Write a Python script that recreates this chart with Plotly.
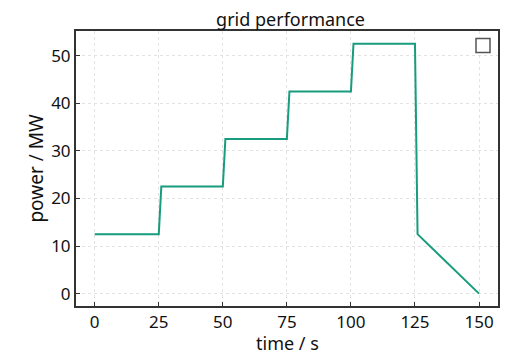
import plotly.graph_objects as go

time_s = [0, 25, 26, 50, 51, 75, 76, 100, 101, 125, 126, 150]
power_mw = [12.5, 12.5, 22.5, 22.5, 32.5, 32.5, 42.5, 42.5, 52.5, 52.5, 12.5, 0]
x_ticks = [0, 25, 50, 75, 100, 125, 150]
y_ticks = [0, 10, 20, 30, 40, 50]

# window pixel layout (page body has an 8px margin)
O = 8
L, R, T, B = 76, 498, 31, 306
W, H = 516, 354
FW, FH = W - O, H - O

def px(x):
    return (x - L) / (R - L)

def py(y):
    return (B - y) / (B - T)

fig = go.Figure()
fig.add_trace(go.Scatter(x=time_s, y=power_mw, mode="lines",
                         line=dict(color="#179C7D", width=2), showlegend=False))

axis_common = dict(showline=True, linecolor="#333333", linewidth=2, mirror=True,
                   ticks="inside", ticklen=4, tickcolor="#333333", tickwidth=1,
                   showgrid=True, gridcolor="#e2e2e2", griddash="dot", gridwidth=1,
                   zeroline=False, automargin=False,
                   tickfont=dict(size=17, color="#111111"))

fig.update_layout(
    template="none",
    width=FW, height=FH,
    margin=dict(l=L - O, r=W - R, t=T - O, b=H - B, autoexpand=False),
    paper_bgcolor="white", plot_bgcolor="white",
    font=dict(family="Noto Sans, Open Sans, sans-serif", color="#111111"),
    title=dict(text="grid performance", x=(L + R) / 2 / W, xanchor="center",
               y=1 - 12 / FH, yanchor="middle", font=dict(size=18)),
    xaxis=dict(range=[-7.3, 157.4], tickvals=x_ticks, **axis_common),
    yaxis=dict(range=[-2.6, 55.2], tickvals=y_ticks,
               title=dict(text="power / MW", font=dict(size=19), standoff=2), **axis_common),
    annotations=[
        dict(text="time / s", xref="paper", yref="paper", x=0.5, y=py(343),
             xanchor="center", yanchor="middle", showarrow=False,
             font=dict(size=18, color="#111111")),
    ],
    shapes=[
        dict(type="rect", xref="paper", yref="paper",
             x0=px(476), x1=px(490), y0=py(52.5), y1=py(38.5),
             line=dict(color="#555555", width=1.5), fillcolor="white"),
    ],
)

fig.write_html("out.html")
